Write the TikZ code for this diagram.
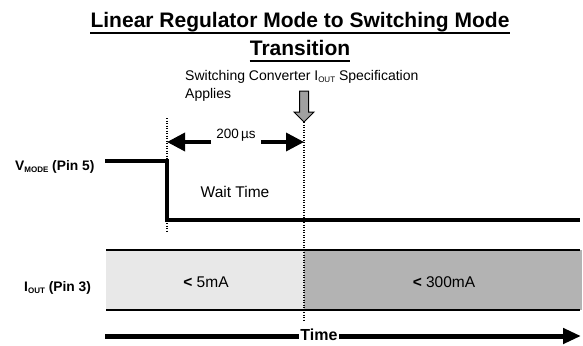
\documentclass[tikz,border=0pt]{standalone}
\usepackage{fontspec}
\setmainfont{Liberation Sans}
\usetikzlibrary{arrows.meta}
\definecolor{lightband}{HTML}{E8E8E8}
\definecolor{darkband}{HTML}{B3B3B3}
\definecolor{arrowgray}{HTML}{A0A0A0}
\newcommand{\sbs}[1]{\raisebox{-0.3ex}{\fontsize{8}{8}\selectfont #1}}
\begin{document}
\begin{tikzpicture}[x=1pt,y=-1pt,
  lbl/.style={inner sep=0pt, anchor=base},
  titlefont/.style={font=\fontsize{21}{21}\selectfont\bfseries},
  annfont/.style={font=\fontsize{14}{14}\selectfont},
  pinfont/.style={font=\fontsize{13.8}{14}\selectfont\bfseries},
  midfont/.style={font=\fontsize{15.5}{16}\selectfont},
  sig/.style={line width=4pt, line join=miter},
  guide/.style={line width=2pt, dash pattern=on 1.4pt off 1.1pt},
  bandline/.style={line width=2pt},
  dimarrow/.style={line width=3.5pt, -{Triangle[length=18pt,width=18pt]}},
  timearrow/.style={line width=5pt, -{Triangle[length=18pt,width=15pt]}},
  uline/.style={line width=2pt}]
\useasboundingbox (0,0) rectangle (583,345);

% title
\node[lbl, titlefont] (t1) at (300,28) {Linear Regulator Mode to Switching Mode};
\node[lbl, titlefont] (t2) at (300,56) {Transition};
\draw[uline] ([yshift=-5pt]t1.base west) -- ([yshift=-5pt]t1.base east);
\draw[uline] ([yshift=-5pt]t2.base west) -- ([yshift=-5pt]t2.base east);

% annotation
\node[lbl, anchor=base west, annfont] (ann1) at (185,80) {Switching Converter I\sbs{OUT} Specification};
\node[lbl, anchor=base west, annfont] (ann2) at (185,98) {Applies};

% gray arrow
\coordinate (rtop) at (304,122);
\draw[fill=arrowgray, line width=1pt, line join=miter]
  (299.5,91) -- (308.5,91) -- (308.5,112) -- (314,112) -- (rtop) -- (294,112) -- (299.5,112) -- cycle;

% band
\fill[lightband] (106,250) rectangle (304,310);
\fill[darkband] (304,250) rectangle (582,310);
\draw[bandline] (106,250) -- (580,250);
\draw[bandline] (106,310) -- (580,310);

% guides
\coordinate (ltop) at (167,118);
\coordinate (lbot) at (167,232);
\coordinate (rbot) at (304,321);
\draw[guide] (ltop) -- (lbot);
\draw[guide] (rtop) -- (rbot);

% 200us dimension
\coordinate (dl) at (167,142);
\coordinate (dr) at (304,142);
\node[lbl, font=\fontsize{13.5}{14}\selectfont] (dur) at (236,138) {200\,µs};
\draw[dimarrow] ([xshift=-5pt]dur.west |- dl) -- (dl);
\draw[dimarrow] ([xshift=5pt]dur.east |- dr) -- (dr);

% V_MODE signal
\node[lbl, anchor=base west, pinfont] (vm) at (15,170) {V\sbs{MODE} (Pin 5)};
\draw[sig] (105,161) -- (167,161) -- (167,220) -- (580,220);
\node[lbl, midfont] (wait) at (235,197) {Wait Time};

% I_OUT
\node[lbl, anchor=base west, pinfont] (io) at (24,291) {I\sbs{OUT} (Pin 3)};
\node[lbl, midfont] (lo) at (206,287) {\textbf{<} 5mA};
\node[lbl, midfont] (hi) at (444,287) {\textbf{<} 300mA};

% time axis
\coordinate (tstart) at (105,336);
\coordinate (tend) at (581,336);
\draw[timearrow] (tstart) -- (tend);
\node[lbl, fill=white, inner xsep=1pt, font=\fontsize{16}{16}\selectfont\bfseries] (time) at (319,340.5) {Time};
\end{tikzpicture}
\end{document}
